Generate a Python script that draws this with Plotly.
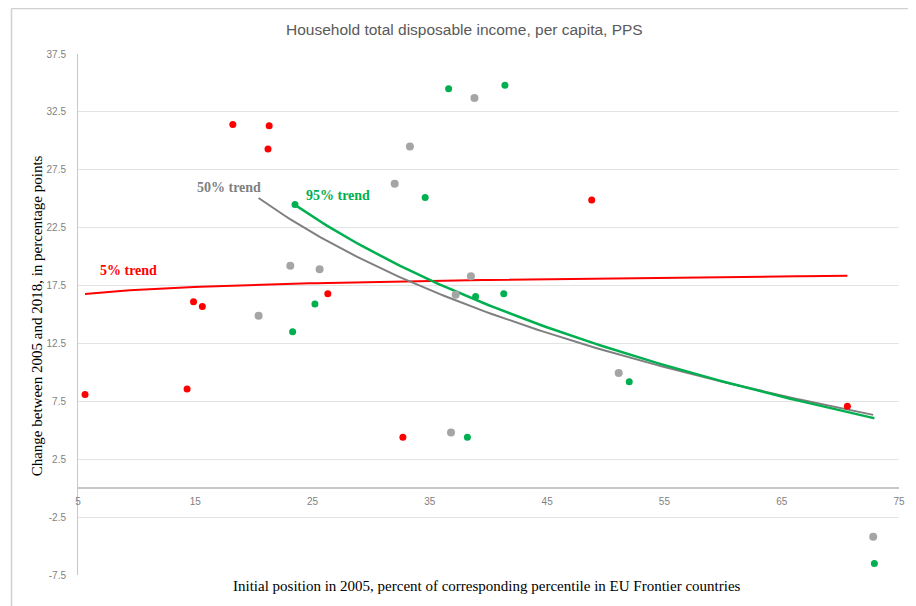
import numpy as np
import plotly.graph_objects as go

# ---- data ----
p5_x = [5.6, 14.3, 14.85, 15.6, 18.2, 21.3, 21.2, 26.3, 32.7, 48.8, 70.6]
p5_y = [8.1, 8.56, 16.1, 15.7, 31.4, 31.3, 29.3, 16.8, 4.4, 24.9, 7.07]

p50_x = [20.4, 23.1, 25.6, 32.0, 33.3, 38.8, 36.8, 38.5, 37.2, 51.1, 72.8]
p50_y = [14.9, 19.2, 18.9, 26.3, 29.5, 33.7, 4.8, 18.3, 16.7, 9.95, -4.2]

p95_x = [23.3, 25.2, 23.5, 34.6, 36.6, 41.4, 38.9, 41.3, 38.2, 52.0, 72.9]
p95_y = [13.5, 15.9, 24.5, 25.1, 34.5, 34.8, 16.55, 16.8, 4.4, 9.2, -6.5]

x_ticks = [5, 15, 25, 35, 45, 55, 65, 75]
y_ticks = [37.5, 32.5, 27.5, 22.5, 17.5, 12.5, 7.5, 2.5, -2.5, -7.5]

RED = "#FF0000"
GREEN = "#00B050"
GRAY = "#A5A5A5"
GRAY_LINE = "#7F7F7F"


def log_trend(xs, ys):
    xs = np.asarray(xs, float)
    ys = np.asarray(ys, float)
    b, a = np.polyfit(np.log(xs), ys, 1)
    xx = np.linspace(xs.min(), xs.max(), 120)
    return xx, a + b * np.log(xx)


fig = go.Figure()

for xs, ys, col, w in [(p5_x, p5_y, RED, 2),
                       (p50_x, p50_y, GRAY_LINE, 2),
                       (p95_x, p95_y, GREEN, 2.5)]:
    tx, ty = log_trend(xs, ys)
    fig.add_trace(go.Scatter(x=tx, y=ty, mode="lines",
                             line=dict(color=col, width=w),
                             hoverinfo="skip", showlegend=False))

fig.add_trace(go.Scatter(x=p50_x, y=p50_y, mode="markers",
                         marker=dict(color=GRAY, size=8), name="50%",
                         showlegend=False))
fig.add_trace(go.Scatter(x=p95_x, y=p95_y, mode="markers",
                         marker=dict(color=GREEN, size=7), name="95%",
                         showlegend=False))
fig.add_trace(go.Scatter(x=p5_x, y=p5_y, mode="markers",
                         marker=dict(color=RED, size=7), name="5%",
                         showlegend=False))

tick_font = dict(family="Liberation Sans, Arial, sans-serif", size=10, color="#7F7F7F")

# page body has an 8px margin, so the figure is offset by (8, 8)
L, T = 70, 46
PW, PH = 827, 521
fig.update_layout(
    width=L + PW + 11, height=T + PH + 31,
    margin=dict(l=L, r=11, t=T, b=31),
    paper_bgcolor="white", plot_bgcolor="white",
    xaxis=dict(range=[5, 75], tickvals=x_ticks, ticktext=[str(v) for v in x_ticks],
               showgrid=False, zeroline=False, showline=True,
               linecolor="#C8C8C8", linewidth=2,
               anchor="free", position=7.5 / 45.0,
               ticks="", tickfont=tick_font, ticklabelstandoff=4),
    yaxis=dict(range=[-7.5, 37.5], tickvals=y_ticks,
               ticktext=[str(v) for v in y_ticks],
               showgrid=True, gridcolor="#E3E3E3", gridwidth=1,
               zeroline=False, showline=True, linecolor="#C8C8C8",
               linewidth=1, ticks="", tickfont=tick_font, ticklabelstandoff=9),
)


def px(xp):
    return (xp - 78) / PW


def py(yp):
    return (575 - yp) / PH


ann = [
    dict(text="Household total disposable income, per capita, PPS",
         xref="paper", yref="paper", x=px(467), y=py(29),
         showarrow=False, xanchor="center", yanchor="middle",
         font=dict(family="Liberation Sans, Arial, sans-serif", size=15.5, color="#595959")),
    dict(text="Initial position in 2005, percent of corresponding percentile in EU Frontier countries",
         xref="paper", yref="paper", x=px(490), y=py(586),
         showarrow=False, xanchor="center", yanchor="middle",
         font=dict(family="Liberation Serif, Times New Roman, serif", size=15, color="black")),
    dict(text="Change between 2005 and 2018, in percentage points",
         xref="paper", yref="paper", x=px(37), y=py(316),
         showarrow=False, xanchor="center", yanchor="middle", textangle=-90,
         font=dict(family="Liberation Serif, Times New Roman, serif", size=15, color="black")),
    dict(text="<b>50% trend</b>", x=17.87, y=25.95, showarrow=False,
         xanchor="center", yanchor="middle",
         font=dict(family="Liberation Serif, Times New Roman, serif", size=14, color="#7F7F7F")),
    dict(text="<b>95% trend</b>", x=27.13, y=25.26, showarrow=False,
         xanchor="center", yanchor="middle",
         font=dict(family="Liberation Serif, Times New Roman, serif", size=14, color=GREEN)),
    dict(text="<b>5% trend</b>", x=9.32, y=18.77, showarrow=False,
         xanchor="center", yanchor="middle",
         font=dict(family="Liberation Serif, Times New Roman, serif", size=14, color=RED)),
]
fig.update_layout(annotations=ann)

# light chart-area border (left and top edges visible in the reference)
fig.add_shape(type="line", xref="paper", yref="paper",
              x0=px(11), x1=px(11), y0=py(606), y1=py(8.5),
              line=dict(color="#D0D0D0", width=1.5), layer="above")
fig.add_shape(type="line", xref="paper", yref="paper",
              x0=px(11), x1=px(916), y0=py(8.5), y1=py(8.5),
              line=dict(color="#D0D0D0", width=1.5), layer="above")

fig.write_html("out.html")
